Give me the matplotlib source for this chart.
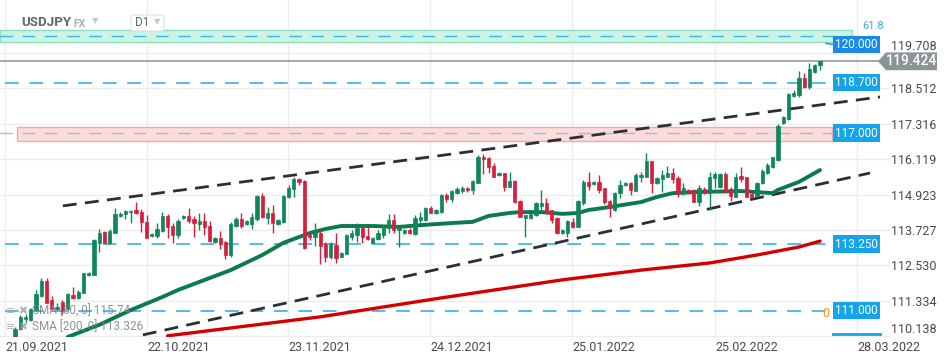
import matplotlib
matplotlib.use("Agg")
import matplotlib.pyplot as plt
from matplotlib.patches import Polygon, FancyBboxPatch

plt.rcParams['font.family'] = ['Roboto', 'DejaVu Sans']

# daily candles, USDJPY
opens = [110.11, 110.38, 110.72, 110.69, 111.02, 111.50, 112.00, 111.36, 111.06, 111.29,
         111.06, 111.53, 111.43, 111.60, 112.21, 112.21, 113.29, 113.66, 113.29, 113.62,
         114.20, 114.27, 114.33, 114.40, 114.33, 114.00, 113.52, 113.52, 113.69, 114.20,
         113.86, 113.56, 114.13, 114.20, 114.10, 113.93, 114.03, 113.86, 113.32, 113.46,
         113.32, 112.88, 113.86, 114.10, 113.93, 113.93, 114.10, 114.87, 114.13, 114.30,
         113.93, 114.00, 114.84, 115.11, 115.45, 115.38, 113.56, 113.49, 113.62, 113.25,
         112.81, 113.22, 112.81, 112.92, 113.49, 113.56, 113.79, 113.52, 113.29, 113.42,
         113.56, 113.79, 114.06, 113.73, 113.62, 113.73, 113.59, 114.06, 114.06, 114.47,
         114.30, 114.33, 114.91, 114.77, 114.98, 115.04, 115.14, 115.08, 115.31, 116.19,
         116.16, 115.89, 115.58, 115.65, 115.18, 115.38, 114.71, 114.13, 114.13, 114.23,
         114.54, 114.64, 114.40, 114.13, 113.62, 113.62, 114.00, 113.83, 114.64, 115.35,
         115.28, 115.35, 115.14, 114.71, 114.40, 114.98, 115.25, 115.31, 115.04, 115.52,
         115.52, 116.06, 115.31, 115.45, 115.52, 115.65, 115.48, 114.98, 115.08, 115.08,
         114.67, 115.11, 114.98, 115.48, 115.18, 115.62, 115.11, 114.84, 115.55, 115.52,
         114.94, 114.87, 115.31, 115.65, 115.85, 116.09, 117.34, 117.48, 118.25, 118.29,
         118.86, 118.56, 119.06, 119.30]
highs = [110.45, 110.85, 110.89, 111.09, 111.70, 112.10, 112.10, 111.50, 111.26, 111.36,
         111.60, 111.80, 111.70, 112.27, 112.30, 113.42, 113.76, 113.69, 113.76, 114.47,
         114.33, 114.40, 114.40, 114.67, 114.44, 114.23, 113.62, 113.96, 114.33, 114.27,
         113.96, 114.10, 114.23, 114.47, 114.20, 114.30, 114.30, 114.03, 113.49, 113.69,
         113.35, 114.00, 114.17, 114.30, 114.07, 114.30, 114.91, 114.98, 114.50, 114.57,
         114.10, 114.91, 115.25, 115.52, 115.48, 115.41, 113.62, 113.96, 113.73, 113.32,
         113.32, 113.62, 112.98, 113.58, 113.73, 113.96, 113.83, 113.83, 113.48, 113.73,
         113.90, 114.27, 114.27, 113.83, 113.75, 113.79, 114.23, 114.33, 114.50, 114.54,
         114.43, 114.93, 114.98, 115.08, 115.18, 115.21, 115.18, 115.41, 116.26, 116.29,
         116.19, 115.99, 115.68, 115.65, 115.69, 115.41, 114.74, 114.23, 114.30, 114.67,
         115.08, 114.81, 114.40, 114.16, 113.75, 114.06, 114.13, 114.74, 115.41, 115.69,
         115.37, 115.58, 115.14, 114.74, 115.01, 115.41, 115.35, 115.35, 115.65, 115.69,
         116.33, 116.06, 115.50, 115.75, 115.89, 115.82, 115.55, 115.31, 115.11, 115.11,
         115.25, 115.18, 115.69, 115.69, 115.65, 115.69, 115.18, 115.65, 115.85, 115.52,
         114.98, 115.35, 115.79, 115.99, 116.19, 117.31, 117.58, 118.35, 118.46, 119.10,
         119.03, 119.37, 119.33, 119.43]
lows = [110.01, 110.35, 110.62, 110.65, 110.99, 111.46, 111.26, 111.02, 111.02, 110.89,
        111.02, 111.40, 111.40, 111.60, 112.18, 112.21, 112.98, 113.29, 113.25, 113.62,
        114.17, 114.10, 113.96, 114.27, 113.66, 113.46, 113.49, 113.46, 113.66, 113.46,
        113.29, 113.46, 114.10, 113.96, 113.49, 113.73, 113.56, 113.32, 113.29, 113.08,
        112.75, 112.81, 113.83, 113.79, 113.90, 113.76, 114.03, 114.13, 113.93, 113.62,
        113.90, 113.96, 114.81, 114.84, 115.25, 113.08, 113.39, 113.19, 112.58, 112.65,
        112.75, 112.61, 112.81, 112.90, 113.39, 113.32, 113.29, 113.39, 113.27, 113.39,
        113.46, 113.62, 113.62, 113.15, 113.60, 113.59, 113.56, 113.96, 114.03, 114.30,
        114.28, 114.31, 114.67, 114.67, 114.94, 114.98, 115.01, 114.94, 115.31, 115.62,
        115.65, 115.52, 115.55, 115.04, 115.18, 114.64, 114.16, 113.49, 114.11, 114.20,
        114.40, 114.27, 113.96, 113.60, 113.60, 113.49, 113.79, 113.83, 114.57, 115.08,
        115.26, 114.98, 114.60, 114.16, 114.37, 114.81, 115.22, 114.91, 115.04, 115.35,
        115.52, 114.98, 115.29, 115.01, 115.52, 115.31, 114.84, 114.91, 114.99, 114.67,
        114.54, 114.94, 114.40, 115.14, 115.16, 114.98, 114.71, 114.84, 115.35, 114.84,
        114.81, 114.84, 115.28, 115.62, 115.82, 116.06, 117.30, 117.44, 118.22, 118.22,
        118.52, 118.49, 119.03, 119.13]
closes = [110.38, 110.79, 110.79, 111.06, 111.56, 112.00, 111.26, 111.06, 111.12, 111.02,
          111.56, 111.43, 111.63, 112.27, 112.27, 113.39, 113.62, 113.29, 113.69, 114.27,
          114.27, 114.37, 114.37, 114.30, 114.00, 113.46, 113.59, 113.76, 114.20, 113.83,
          113.56, 114.03, 114.20, 114.03, 113.96, 114.03, 113.83, 113.35, 113.46, 113.25,
          112.88, 113.93, 114.10, 113.86, 114.03, 114.17, 114.87, 114.17, 114.30, 113.96,
          114.06, 114.87, 115.14, 115.45, 115.35, 113.12, 113.49, 113.62, 113.19, 112.81,
          113.25, 112.78, 112.95, 113.56, 113.62, 113.79, 113.49, 113.42, 113.46, 113.62,
          113.79, 114.06, 113.73, 113.83, 113.73, 113.62, 114.13, 114.17, 114.47, 114.30,
          114.40, 114.91, 114.77, 115.04, 115.11, 115.14, 115.08, 115.38, 116.19, 116.12,
          115.85, 115.52, 115.65, 115.18, 115.38, 114.67, 114.17, 114.23, 114.27, 114.64,
          114.64, 114.30, 114.06, 113.62, 113.73, 114.03, 113.83, 114.71, 115.35, 115.21,
          115.35, 115.08, 114.67, 114.47, 114.98, 115.25, 115.31, 115.08, 115.58, 115.58,
          116.06, 115.31, 115.48, 115.58, 115.65, 115.45, 114.98, 115.14, 115.01, 114.67,
          115.14, 114.98, 115.52, 115.62, 115.62, 115.01, 114.87, 115.52, 115.45, 114.84,
          114.84, 115.31, 115.72, 115.92, 116.19, 117.24, 117.54, 118.32, 118.35, 118.86,
          118.56, 119.16, 119.30, 119.42]

# moving averages (candle index, value)
sma50_idx = [10, 16, 22, 28, 31, 38, 41, 47, 51, 56, 59, 62, 68, 73, 78, 83, 87, 90, 94, 96,
             100, 104, 107, 109, 113, 119, 122, 125, 130, 138, 144, 145, 149, 151, 153]
sma50_val = [110.11, 110.52, 111.02, 111.46, 111.70, 112.17, 112.37, 112.88, 113.29, 113.62,
             113.76, 113.86, 113.86, 113.83, 113.90, 113.96, 114.00, 114.20, 114.30, 114.33,
             114.33, 114.27, 114.30, 114.40, 114.50, 114.67, 114.84, 114.97, 115.01, 115.04,
             114.97, 115.08, 115.35, 115.55, 115.75]
sma200_idx = [29, 58, 81, 104, 119, 132, 141, 149, 153]
sma200_val = [110.15, 110.79, 111.43, 112.04, 112.37, 112.61, 112.88, 113.15, 113.35]

# trend channel anchors (index, price)
upper_trend = ([9.1, 164.4], [114.54, 118.22])
lower_trend = ([24.3, 162.5], [110.18, 115.65])

levels = [118.700, 113.250, 111.000]
level_labels = ['118.700', '113.250', '111.000']
pink_zone = (116.73, 117.22)
green_zone = (120.07, 120.48)
fib618 = 120.28
last_price = 119.424

yticks = [119.708, 118.512, 117.316, 116.119, 114.923, 113.727, 112.530, 111.334, 110.138]
date_pos = [-1.9, 25.1, 51.9, 78.9, 105.9, 133.1, 160.1]
date_labels = ['21.09.2021', '22.10.2021', '23.11.2021', '24.12.2021',
               '25.01.2022', '25.02.2022', '28.03.2022']

GREEN = '#10875a'
RED = '#d61f3c'
BLUE = '#16a3e9'

fig = plt.figure(figsize=(9.5, 3.6), dpi=100)
ax = fig.add_axes([0, 1 - 337 / 360, 890 / 950, 337 / 360])
ax.set_xlim(-2.85, 166.3)
ax.set_ylim(110.11, 121.495)

for s in ax.spines.values():
    s.set_visible(False)
ax.set_yticks(yticks)
ax.set_yticklabels([f'{v:.3f}' for v in yticks])
ax.yaxis.tick_right()
ax.tick_params(axis='y', length=0, pad=1, labelsize=9, labelcolor='#4a4a4a')
# top label peeks out above the price tag, lowest sits above its grid line
ax.get_yticklabels()[0].set_va('bottom')
ax.get_yticklabels()[-1].set_va('bottom')
ax.set_xticks(date_pos)
ax.set_xticklabels(date_labels)
ax.tick_params(axis='x', length=0, pad=3, labelsize=9, labelcolor='#4a4a4a')
for lbl in ax.get_xticklabels():
    lbl.set_ha('left')
ax.grid(True, color='#ececec', lw=1)
ax.set_axisbelow(True)

# zones
ax.axhspan(*green_zone, xmin=0, xmax=852 / 890, facecolor='#cdf3e4', edgecolor='#8fdfbf', lw=1, zorder=1)
ax.axhspan(*pink_zone, xmin=17 / 890, xmax=832 / 890, facecolor='#fddcdc', edgecolor='#f2a9a9', lw=1, zorder=1)
ax.axhline(fib618, xmin=0, xmax=875 / 890, color='#2cbfe8', lw=1, dashes=(9, 7), zorder=2)
ax.axhline(117.0, xmin=0, xmax=832 / 890, color='#93bfe6', lw=1, dashes=(9, 7), zorder=2)
ax.text(862 / 890, 120.62, '61.8', transform=ax.get_yaxis_transform(), color='#3aaee8',
        fontsize=8, ha='left', va='center')

# horizontal levels
for lv in levels:
    ax.axhline(lv, xmin=5 / 890, xmax=832 / 890, color='#27a5ea', lw=1.1, dashes=(9, 7), zorder=2)
ax.axhline(last_price, xmin=0, xmax=880 / 890, color='#8a9298', lw=1.1, zorder=2)

# trendlines
ax.plot(*upper_trend, color='#2b3035', lw=2, dashes=(5, 3), zorder=3)
ax.plot(*lower_trend, color='#2b3035', lw=2, dashes=(5, 3), zorder=3)

# moving averages
ax.plot(sma200_idx, sma200_val, color='#d40000', lw=2.4, solid_capstyle='round', zorder=4)
ax.plot(sma50_idx, sma50_val, color='#0b7a4e', lw=2.8, solid_capstyle='round', zorder=4)

# candles
idx = list(range(len(opens)))
cols = [GREEN if c >= o else RED for o, c in zip(opens, closes)]
ax.vlines(idx, lows, highs, colors=cols, lw=1, zorder=5)
bottoms = [min(o, c) for o, c in zip(opens, closes)]
heights = [max(abs(c - o), 0.04) for o, c in zip(opens, closes)]
ax.bar(idx, heights, bottom=bottoms, width=0.62, color=cols, edgecolor=cols, lw=0.5, zorder=6)

# right hand labels
ytr = ax.get_yaxis_transform()
for lv, txt in zip(levels + [117.0], level_labels + ['117.000']):
    ax.text(835 / 890, lv, txt, transform=ytr, color='white', fontsize=8.5, ha='left', va='center',
            zorder=8, clip_on=False,
            bbox=dict(boxstyle='square,pad=0.18', fc=BLUE, ec='none'))
ax.text(835 / 890, 120.0, '120.000', transform=ytr, color='white', fontsize=8.5, ha='left',
        va='center', zorder=8, clip_on=False,
        bbox=dict(boxstyle='square,pad=0.18', fc='#1b8ae6', ec='none'))
ax.plot([826 / 890, 833 / 890], [120.03, 119.99], transform=ytr, color='#1b8ae6', lw=1, clip_on=False)
ax.text(822 / 890, 110.92, '0', transform=ytr, color='#f39a1e', fontsize=9, ha='left', va='center', zorder=7)
ax.plot([833 / 890, 880 / 890], [110.22, 110.22], transform=ytr, color=BLUE, lw=2, clip_on=False)

# last price tag
tag = Polygon([(878 / 890, last_price), (886 / 890, last_price + 0.3), (937 / 890, last_price + 0.3),
               (937 / 890, last_price - 0.3), (886 / 890, last_price - 0.3)],
              closed=True, transform=ytr, fc='#8b9499', ec='none', clip_on=False, zorder=9)
ax.add_patch(tag)
ax.text(911 / 890, last_price, f'{last_price:.3f}', transform=ytr, color='white', fontsize=10,
        fontweight='medium', ha='center', va='center', zorder=10, clip_on=False)

# header
fig.text(21 / 950, 1 - 23 / 360, 'USDJPY', fontsize=9.5, fontweight='bold', color='#5d6870', va='center')
fig.text(73 / 950, 1 - 24 / 360, 'FX', fontsize=7.5, fontweight='bold', color='#a9b0b5', va='center')
fig.text(92 / 950, 1 - 21 / 360, '▼', fontsize=6, color='#c2c6c9', va='center', family='DejaVu Sans')
box = FancyBboxPatch((131 / 950, 1 - 31 / 360), 33 / 950, 16 / 360, boxstyle='round,pad=0,rounding_size=0.004',
                     transform=fig.transFigure, fc='white', ec='#dde1e4', lw=0.8)
fig.add_artist(box)
fig.text(135 / 950, 1 - 23 / 360, 'D1', fontsize=8.5, color='#5d6870', va='center')
fig.text(154 / 950, 1 - 22 / 360, '▼', fontsize=6, color='#c2c6c9', va='center', family='DejaVu Sans')

# legend of indicators
fig.text(6 / 950, 1 - 311 / 360, '≡ ✖', fontsize=8, color='#9aa0a4', va='center', family='DejaVu Sans', alpha=0.8)
fig.text(6 / 950, 1 - 327 / 360, '≡ ✖', fontsize=8, color='#9aa0a4', va='center', family='DejaVu Sans', alpha=0.8)
fig.text(32 / 950, 1 - 311 / 360, 'SMA [50, 0] 115.74', fontsize=8.5, color='#7a8085', va='center', alpha=0.85, zorder=10)
fig.text(32 / 950, 1 - 327 / 360, 'SMA [200, 0] 113.326', fontsize=8.5, color='#7a8085', va='center', alpha=0.85, zorder=10)

fig.savefig('out.png', dpi=100)
